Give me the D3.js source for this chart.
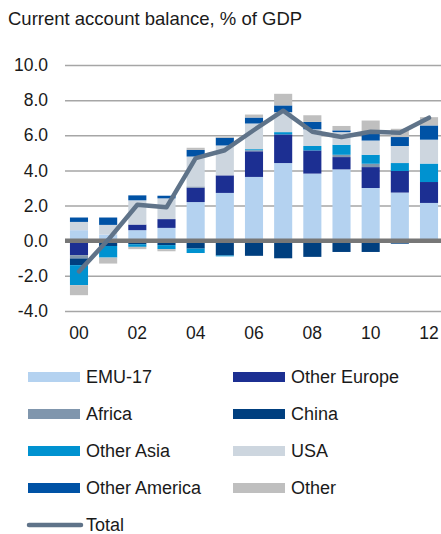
<!DOCTYPE html>
<html>
<head>
<meta charset="utf-8">
<script src="https://cdn.jsdelivr.net/npm/d3@7"></script>
<style>
  body { margin: 0; background: #fff; }
  svg { display: block; font-family: "Liberation Sans", Arial, sans-serif; }
</style>
</head>
<body>
<script>
// Data (% of GDP)
const years = [2000, 2001, 2002, 2003, 2004, 2005, 2006, 2007, 2008, 2009, 2010, 2011, 2012];
const tickYears = [2000, 2002, 2004, 2006, 2008, 2010, 2012];
const yTicks = [-4, -2, 0, 2, 4, 6, 8, 10];

const emu          = [0.60, 0.35, 0.60, 0.73, 2.20, 2.72, 3.63, 4.42, 3.82, 4.06, 3.00, 2.74, 2.15];
const otherEurope  = [-0.82, 0, 0.32, 0.50, 0.82, 1.00, 1.46, 1.63, 1.32, 0.70, 1.19, 1.23, 1.19];
const africa       = [-0.19, 0, 0, 0, 0.07, 0, 0.06, 0, 0, 0.13, 0.19, 0, 0];
const china        = [-0.38, -0.30, -0.20, -0.25, -0.45, -0.84, -0.86, -1.00, -0.92, -0.64, -0.64, -0.17, 0];
const otherAsia    = [-1.14, -0.66, -0.15, -0.23, -0.25, -0.05, 0.06, 0.13, 0.25, 0.57, 0.51, 0.45, 1.05];
const usa          = [0.47, 0.55, 1.38, 1.18, 1.70, 1.70, 1.46, 1.14, 0.95, 0.72, 0.81, 0.97, 1.36];
const otherAmerica = [0.25, 0.42, 0.28, 0.15, 0.38, 0.44, 0.34, 0.38, 0.42, 0.10, 0.38, 0.51, 0.81];
const other        = [-0.57, -0.34, -0.13, -0.12, 0.12, 0.05, 0.17, 0.66, 0.38, 0.25, 0.76, 0.47, 0.47];
const total        = [-1.75, 0.05, 2.05, 1.90, 4.70, 5.15, 6.30, 7.40, 6.20, 5.90, 6.20, 6.15, 7.00];

const series = [
  { key: 'EMU-17', values: emu, color: '#b4d2f0' },
  { key: 'Other Europe', values: otherEurope, color: '#1c2f92' },
  { key: 'Africa', values: africa, color: '#8096ad' },
  { key: 'China', values: china, color: '#003f7f' },
  { key: 'Other Asia', values: otherAsia, color: '#0092d0' },
  { key: 'USA', values: usa, color: '#cdd6df' },
  { key: 'Other America', values: otherAmerica, color: '#0052a5' },
  { key: 'Other', values: other, color: '#bfbfbf' }
];
const totalColor = '#5f7389';

const W = 441, H = 534;
const svg = d3.select('body').append('svg')
  .attr('width', W)
  .attr('height', H);

// title
svg.append('text')
  .attr('x', 8)
  .attr('y', 25)
  .attr('font-size', 18.5)
  .attr('fill', '#1a1a1a')
  .text('Current account balance, % of GDP');

// scales
const x = d3.scaleBand()
  .domain(years)
  .range([64.4, 443.6])
  .paddingInner(0.38)
  .paddingOuter(0.19);

const y = d3.scaleLinear()
  .domain([-4, 10])
  .range([311, 65]);

// y axis with gridlines
const gridLeft = 65, gridRight = 441;
const yAxis = svg.append('g')
  .attr('transform', `translate(${gridLeft},0)`)
  .call(d3.axisLeft(y)
    .tickValues(yTicks)
    .tickSize(-(gridRight - gridLeft))
    .tickPadding(17)
    .tickFormat((d) => d.toFixed(1)));
yAxis.select('.domain').remove();
yAxis.selectAll('line')
  .attr('stroke', '#a6a6a6')
  .attr('stroke-width', 1.5);
yAxis.selectAll('text')
  .attr('font-size', 17.5)
  .attr('fill', '#1a1a1a')
  .attr('font-family', '"Liberation Sans", Arial, sans-serif');

// x axis labels
const xAxis = svg.append('g')
  .attr('transform', 'translate(0,327)')
  .call(d3.axisBottom(x)
    .tickValues(tickYears)
    .tickSize(0)
    .tickPadding(0)
    .tickFormat((d) => String(d).slice(2)));
xAxis.select('.domain').remove();
xAxis.selectAll('text')
  .attr('font-size', 17.5)
  .attr('fill', '#1a1a1a')
  .attr('font-family', '"Liberation Sans", Arial, sans-serif');

// stacked bars
const table = years.map((yr, i) => {
  const row = { year: yr };
  series.forEach((s) => { row[s.key] = s.values[i]; });
  return row;
});

const stack = d3.stack()
  .keys(series.map((s) => s.key))
  .offset(d3.stackOffsetDiverging);

const layers = svg.append('g')
  .selectAll('g')
  .data(stack(table))
  .join('g')
  .attr('fill', (d, i) => series[i].color);

layers.selectAll('rect')
  .data((d) => d)
  .join('rect')
  .attr('x', (d) => x(d.data.year))
  .attr('width', x.bandwidth())
  .attr('y', (d) => y(Math.max(d[0], d[1])))
  .attr('height', (d) => Math.abs(y(d[0]) - y(d[1])));

// zero line
svg.append('line')
  .attr('x1', gridLeft)
  .attr('x2', gridRight)
  .attr('y1', y(0))
  .attr('y2', y(0))
  .attr('stroke', '#777777')
  .attr('stroke-width', 4.5);

// total line
const line = d3.line()
  .x((d, i) => x(years[i]) + x.bandwidth() / 2)
  .y((d) => y(d));

svg.append('path')
  .datum(total)
  .attr('d', line)
  .attr('fill', 'none')
  .attr('stroke', totalColor)
  .attr('stroke-width', 4.5)
  .attr('stroke-linejoin', 'round')
  .attr('stroke-linecap', 'round');

// legend
const legendItems = series.map((s) => ({ key: s.key, color: s.color, type: 'bar' }))
  .concat([{ key: 'Total', color: totalColor, type: 'line' }]);

const legend = svg.append('g')
  .selectAll('g')
  .data(legendItems)
  .join('g')
  .attr('transform', (d, i) => `translate(${i % 2 === 0 ? 28 : 233},${377 + Math.floor(i / 2) * 37})`);

legend.filter((d) => d.type === 'bar')
  .append('rect')
  .attr('x', 0)
  .attr('y', -5)
  .attr('width', 52)
  .attr('height', 10)
  .attr('fill', (d) => d.color);

legend.filter((d) => d.type === 'line')
  .append('line')
  .attr('x1', 1)
  .attr('x2', 53)
  .attr('y1', 0)
  .attr('y2', 0)
  .attr('stroke', (d) => d.color)
  .attr('stroke-width', 4.5)
  .attr('stroke-linecap', 'round');

legend.append('text')
  .attr('x', 58)
  .attr('y', 0)
  .attr('dy', '0.35em')
  .attr('font-size', 18)
  .attr('fill', '#1a1a1a')
  .text((d) => d.key);
</script>
</body>
</html>
